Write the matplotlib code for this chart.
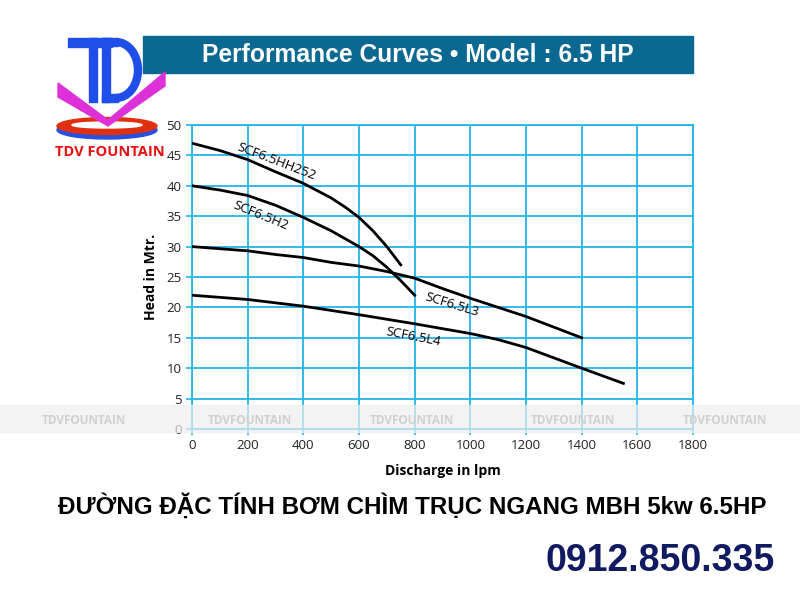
import numpy as np
import matplotlib.pyplot as plt
from matplotlib.patches import Rectangle, Ellipse, Polygon, Arc

# discharge (lpm) / head (m)
hh252_q = [0, 100, 200, 300, 400, 500, 550, 600, 650, 700, 750]
hh252_h = [47, 45.8, 44.3, 42.3, 40.4, 38.0, 36.5, 34.8, 32.6, 30.0, 27.0]
h2_q = [0, 100, 200, 300, 400, 500, 600, 650, 700, 750, 800]
h2_h = [40, 39.3, 38.4, 36.8, 34.8, 32.6, 30.0, 28.5, 26.6, 24.4, 22.0]
l3_q = [0, 200, 300, 400, 500, 600, 700, 800, 900, 1000, 1200, 1400]
l3_h = [30, 29.3, 28.7, 28.2, 27.4, 26.8, 25.9, 24.8, 23.1, 21.5, 18.5, 15.0]
l4_q = [0, 200, 400, 600, 800, 1000, 1100, 1200, 1400, 1550]
l4_h = [22, 21.3, 20.2, 18.8, 17.3, 15.7, 14.7, 13.4, 10.0, 7.5]

curve_names = ['SCF6.5HH252', 'SCF6.5H2', 'SCF6.5L3', 'SCF6.5L4']
label_pos = [(305, 43.9, -21), (248, 35.0, -22), (934, 20.4, -17), (794, 15.1, -11)]

x_ticks = list(range(0, 1801, 200))
y_ticks = list(range(0, 51, 5))

grid_blue = '#22b4ea'
font_main = ['Open Sans', 'DejaVu Sans']
font_arial = ['Liberation Sans', 'DejaVu Sans']


def px(x, y):
    # pixel position (from top-left) -> figure fraction
    return (x / 800, 1 - y / 600)


fig = plt.figure(figsize=(8, 6), dpi=100)
ax = fig.add_axes([0.24, 0.285, 0.62625, 0.5067])

for q, h in [(hh252_q, hh252_h), (h2_q, h2_h), (l3_q, l3_h), (l4_q, l4_h)]:
    ax.plot(q, h, color='black', lw=2.0, zorder=3, solid_joinstyle='round')

for name, (x, y, rot) in zip(curve_names, label_pos):
    ax.text(x, y, name, rotation=rot, ha='center', va='center', fontsize=9.5,
            family=font_main, zorder=4)

ax.set_xlim(0, 1800)
ax.set_ylim(0, 50)
ax.set_xticks(x_ticks)
ax.set_yticks(y_ticks)
ax.grid(True, color=grid_blue, lw=1.3)
for s in ax.spines.values():
    s.set_color(grid_blue)
    s.set_linewidth(1.3)
ax.tick_params(colors=grid_blue, labelcolor='#222222', labelsize=9.5, length=4, width=1.2)
for lab in ax.get_xticklabels() + ax.get_yticklabels():
    lab.set_family(font_main)
ax.set_xlabel('Discharge in lpm', fontsize=10, fontweight='bold', family=font_main, labelpad=8)
ax.set_ylabel('Head in Mtr.', fontsize=10, fontweight='bold', family=font_main, labelpad=6)

# title bar
fig.patches.append(Rectangle(px(143, 73), 550 / 800, 37 / 600,
                             transform=fig.transFigure, color='#0b6891', zorder=0))
fig.text(*px(418, 55), 'Performance Curves \u2022 Model : 6.5 HP', color='white',
         fontsize=17.7, fontweight='bold', ha='center', va='center', family=font_arial)

# watermark band
fig.patches.append(Rectangle(px(0, 432), 1, 27 / 600, transform=fig.transFigure,
                             color='#eeeeee', alpha=0.7, zorder=5))
for xp in [84, 250, 412, 573, 725]:
    fig.text(*px(xp, 420), 'TDVFOUNTAIN', color='#d0d0d0', fontsize=8.5,
             fontweight='bold', ha='center', va='center', family=font_main, zorder=6)

# logo: T and D strokes
logo_blue = '#1f4fe8'
for x0, y0, w, h in [(68, 38, 44, 9), (89, 38, 8, 64), (102, 38, 8, 64),
                     (102, 38, 16, 8), (102, 94, 16, 8)]:
    fig.patches.append(Rectangle(px(x0, y0 + h), w / 800, h / 600,
                                 transform=fig.transFigure, color=logo_blue, zorder=2))
fig.patches.append(Arc(px(116, 70), 44 / 800, 56 / 600, theta1=-90, theta2=90,
                       transform=fig.transFigure, color=logo_blue, lw=6, zorder=2))
fig.patches.append(Ellipse(px(107, 130), 100 / 800, 18 / 600,
                           transform=fig.transFigure, color='#2850e0', zorder=1))
fig.patches.append(Ellipse(px(107, 126), 100 / 800, 17 / 600,
                           transform=fig.transFigure, color='#e03010', zorder=1))
fig.patches.append(Ellipse(px(107, 125), 70 / 800, 6 / 600,
                           transform=fig.transFigure, color='white', zorder=1))
v_pts = [(58, 83), (108, 120), (165, 72), (165, 86), (108, 126), (58, 97)]
fig.patches.append(Polygon([px(x, y) for x, y in v_pts], closed=True,
                           transform=fig.transFigure, color='#dd30d8', zorder=3))
fig.text(*px(110, 152), 'TDV FOUNTAIN', color='#e81010', fontsize=10.5,
         fontweight='bold', ha='center', va='center', family=font_main)

# bottom texts
fig.text(*px(412, 506), 'ĐƯỜNG ĐẶC TÍNH BƠM CHÌM TRỤC NGANG MBH 5kw 6.5HP',
         fontsize=17.4, fontweight='bold', ha='center', va='center', family=font_arial)
fig.text(*px(660, 561), '0912.850.335', color='#101a60', fontsize=27,
         fontweight='bold', ha='center', va='center', family=font_arial)

fig.savefig('out.png', dpi=100)
